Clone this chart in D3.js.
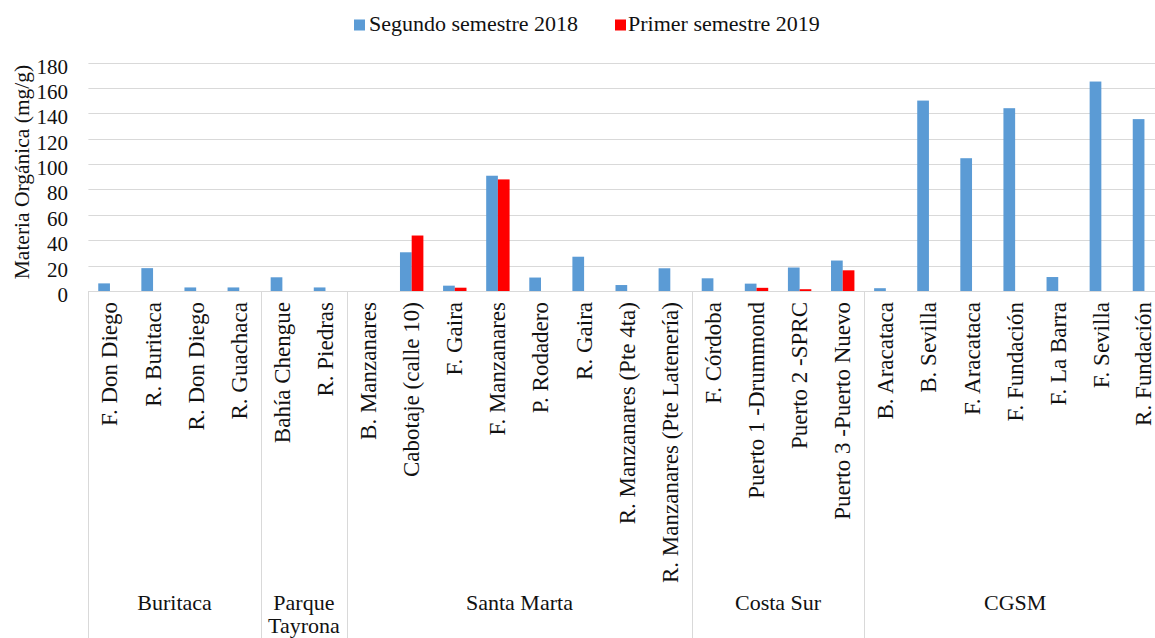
<!DOCTYPE html>
<html>
<head>
<meta charset="utf-8">
<script src="https://cdn.jsdelivr.net/npm/d3@7"></script>
<style>
  html, body { margin: 0; padding: 0; background: #fff; }
  svg { display: block; }
</style>
</head>
<body>
<svg id="chart" width="1155" height="638"></svg>
<script>
// ---- Data ----
const categories = [
  "F. Don Diego", "R. Buritaca", "R. Don Diego", "R. Guachaca",
  "Bahía Chengue", "R. Piedras",
  "B. Manzanares", "Cabotaje (calle 10)", "F. Gaira", "F. Manzanares", "P. Rodadero", "R. Gaira", "R. Manzanares (Pte 4ta)", "R. Manzanares (Pte Latenería)",
  "F. Córdoba", "Puerto 1 -Drummond", "Puerto 2 -SPRC", "Puerto 3 -Puerto Nuevo",
  "B. Aracataca", "B. Sevilla", "F. Aracataca", "F. Fundación", "F. La Barra", "F. Sevilla", "R. Fundación"
];
const groups = ["Buritaca", "Parque Tayrona", "Santa Marta", "Costa Sur", "CGSM"];
const groupSizes = [4, 2, 8, 4, 7];
const seriesNames = ["Segundo semestre 2018", "Primer semestre 2019"];
const segundo2018 = [6, 18, 2.8, 2.8, 10.8, 2.8, null, 30.5, 4.2, 90.8, 10.6, 27, 4.7, 17.9, 10, 5.8, 18.5, 24, 2.2, 150, 104.6, 144, 11, 165, 135.4];
const primer2019  = [null, null, null, null, null, null, null, 43.7, 2.6, 87.9, null, null, null, null, null, 2.5, 1.4, 16.3, null, null, null, null, null, null, null];
const yTicks = [0, 20, 40, 60, 80, 100, 120, 140, 160, 180];
const yTitle = "Materia Orgánica (mg/g)";
const colors = ["#5B9BD5", "#FF0000"];

// ---- Layout ----
const FONT = '"Liberation Serif", "Times New Roman", serif';
const svg = d3.select("#chart");
const plotLeft = 88.4, plotRight = 1166, yTop = 62.5, yBottom = 291;

const x = d3.scaleBand().domain(categories).range([plotLeft, plotRight])
  .paddingInner(0.457).paddingOuter(0.2285);
const xs = d3.scaleBand().domain([0, 1]).range([0, x.bandwidth()]);
const y = d3.scaleLinear().domain([0, 180]).range([yBottom, yTop]);

function txt(sel) { return sel.style("font-family", FONT).attr("fill", "#111"); }

// gridlines
svg.append("g").selectAll("line").data(yTicks).join("line")
  .attr("x1", plotLeft).attr("x2", plotRight)
  .attr("y1", d => Math.round(y(d)) + 0.5).attr("y2", d => Math.round(y(d)) + 0.5)
  .attr("stroke", "#d9d9d9").attr("stroke-width", 1);

// y tick labels
txt(svg.append("g").selectAll("text").data(yTicks).join("text"))
  .attr("x", 68).attr("y", d => y(d) + 4)
  .attr("text-anchor", "end").attr("dominant-baseline", "central")
  .style("font-size", "21px").text(d => d);

// y title
txt(svg.append("text"))
  .attr("transform", `translate(22,172) rotate(-90)`)
  .attr("text-anchor", "middle").attr("dominant-baseline", "central")
  .style("font-size", "21.5px").text(yTitle);

// bars
const seriesData = [segundo2018, primer2019];
seriesData.forEach((vals, si) => {
  svg.append("g").selectAll("rect")
    .data(categories.map((c, i) => ({ c, v: vals[i] })).filter(d => d.v != null))
    .join("rect")
    .attr("x", d => x(d.c) + xs(si))
    .attr("width", xs.bandwidth())
    .attr("y", d => y(d.v))
    .attr("height", d => y(0) - y(d.v))
    .attr("fill", colors[si]);
});

// category labels
txt(svg.append("g").selectAll("text").data(categories).join("text"))
  .attr("transform", d => `translate(${Math.min(x(d) + x.bandwidth() / 2, 1143)},302) rotate(-90)`)
  .attr("text-anchor", "end").attr("dominant-baseline", "central")
  .style("font-size", "23px").text(d => d);

// group separators and labels
const step = x.step();
let idx = 0;
const bounds = [plotLeft];
groupSizes.forEach(n => { idx += n; bounds.push(plotLeft + idx * step); });
svg.append("g").selectAll("line").data(bounds).join("line")
  .attr("x1", d => Math.round(d) + 0.5).attr("x2", d => Math.round(d) + 0.5)
  .attr("y1", yBottom).attr("y2", 638)
  .attr("stroke", "#d9d9d9").attr("stroke-width", 1);

groups.forEach((g, i) => {
  const cx = (bounds[i] + bounds[i + 1]) / 2;
  const words = g === "Parque Tayrona" ? ["Parque", "Tayrona"] : [g];
  const t = txt(svg.append("text")).attr("text-anchor", "middle").style("font-size", "22px");
  words.forEach((w, wi) => {
    t.append("tspan").attr("x", cx).attr("y", 610 + wi * 23).text(w);
  });
});

// legend
const legendItems = [
  { name: seriesNames[0], color: colors[0], sx: 354, tx: 369 },
  { name: seriesNames[1], color: colors[1], sx: 615, tx: 628 }
];
legendItems.forEach(it => {
  svg.append("rect").attr("x", it.sx).attr("y", 19.5).attr("width", 11).attr("height", 11).attr("fill", it.color);
  txt(svg.append("text")).attr("x", it.tx).attr("y", 31).style("font-size", "22px").text(it.name);
});
</script>
</body>
</html>
